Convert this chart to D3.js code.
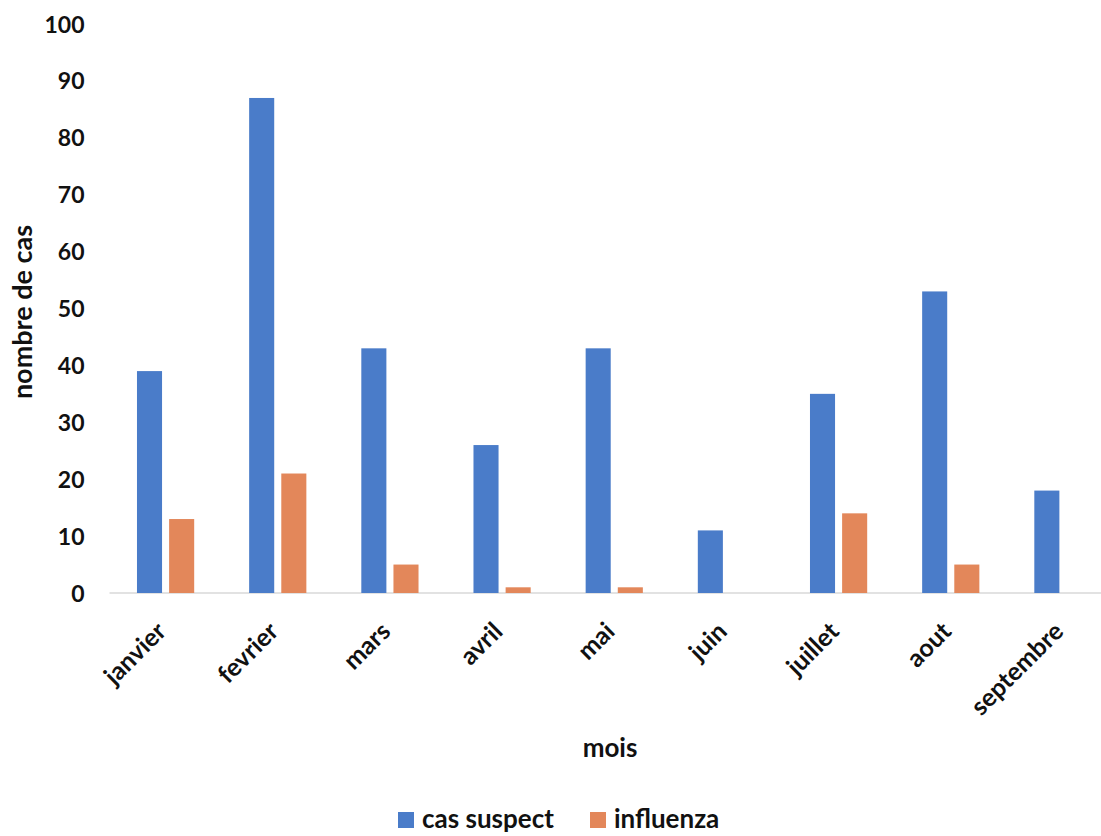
<!DOCTYPE html>
<html><head><meta charset="utf-8">
<script src="https://cdn.jsdelivr.net/npm/d3@7"></script>
<style>body{margin:0;background:#fff;}svg{display:block;}text{font-family:Lato,"Open Sans",sans-serif;font-weight:bold;fill:#111;}</style>
</head><body>
<script>
const months = ["janvier","fevrier","mars","avril","mai","juin","juillet","aout","septembre"];
const casSuspect = [39,87,43,26,43,11,35,53,18];
const influenza = [13,21,5,1,1,0,14,5,0];
const seriesNames = ["cas suspect","influenza"];
const colors = ["#4a7cc9","#e3875a"];
const yTicks = [0,10,20,30,40,50,60,70,80,90,100];

const W=1101,H=836;
const svg=d3.select("body").append("svg").attr("width",W).attr("height",H);
const pLeft=109.5, pRight=1119, pTop=24, pBottom=593;
const x0=d3.scaleBand().domain(months).range([pLeft,pRight]).paddingInner(0.49).paddingOuter(0.245);
const x1=d3.scaleBand().domain(seriesNames).range([0,x0.bandwidth()]).paddingInner(0.22);
const y=d3.scaleLinear().domain([0,100]).range([pBottom,pTop]);
const data=months.map((m,i)=>({m,vals:[casSuspect[i],influenza[i]]}));

// baseline
svg.append("line").attr("x1",pLeft).attr("x2",pRight).attr("y1",y(0)).attr("y2",y(0)).attr("stroke","#d9d9d9").attr("stroke-width",1.5);

const g=svg.selectAll("g.grp").data(data).enter().append("g").attr("class","grp").attr("transform",d=>`translate(${x0(d.m)},0)`);
g.selectAll("rect").data(d=>d.vals.map((v,i)=>({v,i}))).enter().append("rect")
 .attr("x",d=>x1(seriesNames[d.i])).attr("width",x1.bandwidth())
 .attr("y",d=>y(d.v)).attr("height",d=>y(0)-y(d.v)).attr("fill",d=>colors[d.i]);

// y axis
const ya=svg.append("g").attr("transform",`translate(${pLeft-25},0)`).call(d3.axisLeft(y).tickValues(yTicks).tickSize(0).tickPadding(0));
ya.select(".domain").remove();
ya.selectAll("text").attr("font-size",23).attr("font-family","Lato,sans-serif").attr("font-weight","bold").attr("fill","#111").attr("dy","0.35em");

// x labels
const xa=svg.append("g").attr("transform",`translate(0,${pBottom})`).call(d3.axisBottom(x0).tickSize(0).tickPadding(0));
xa.select(".domain").remove();
xa.selectAll("text").attr("font-size",25).attr("font-family","Lato,sans-serif").attr("font-weight","bold").attr("fill","#111")
 .attr("text-anchor","end").attr("dy",0).attr("y",0)
 .attr("transform","translate(2,40) rotate(-45)");

// axis titles
svg.append("text").attr("x",610).attr("y",757).attr("text-anchor","middle").attr("font-size",26).text("mois");
svg.append("text").attr("transform","translate(32,312) rotate(-90)").attr("text-anchor","middle").attr("font-size",27).text("nombre de cas");

// legend
const leg=svg.append("g").attr("transform","translate(0,828)");
const lx=[398,590];
seriesNames.forEach((s,i)=>{
  leg.append("rect").attr("x",lx[i]).attr("y",-16).attr("width",16).attr("height",16).attr("fill",colors[i]);
  leg.append("text").attr("x",lx[i]+24).attr("y",0).attr("font-size",26).text(s);
});
</script>
</body></html>
